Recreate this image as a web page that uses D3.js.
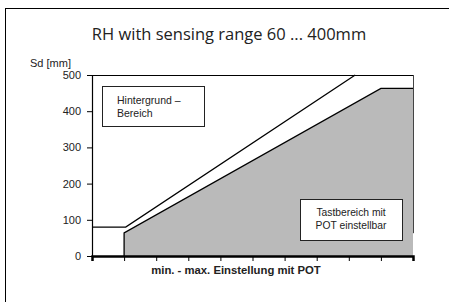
<!DOCTYPE html>
<html lang="de">
<head>
    <meta charset="UTF-8">
    <title>RH with sensing range 60 ... 400mm</title>
    <script src="https://cdnjs.cloudflare.com/ajax/libs/d3/7.8.5/d3.min.js"></script>
    <style>
        body{margin:0; background:#fff;}
        svg{display:block;}
        text{font-family:"Liberation Sans", Arial, sans-serif; fill:#222;}
    </style>
</head>
<body>
    <svg id="chart" width="449" height="302"></svg>
    <script>
        // data
        var yTicks = [0, 100, 200, 300, 400, 500];
        var xTicks = [0, 1, 2, 3, 4, 5, 6, 7, 8, 9, 10];
        // upper limit (Hintergrund)
        var upperX = [0, 1.05, 8.2];
        var upperY = [80, 80, 500];
        // sensing area (Tastbereich)
        var areaX = [1, 1, 9, 10, 10];
        var areaY = [0, 64, 463, 463, 0];

        var svg = d3.select("#chart");
        var plotLeft = 92, plotTop = 75, plotRight = 413, plotBottom = 256;

        var xScale = d3.scaleLinear().domain([0, 10]).range([plotLeft, plotRight]);
        var yScale = d3.scaleLinear().domain([0, 500]).range([plotBottom, plotTop]);

        // outer frame
        svg.append("rect")
           .attr("x", 5.5).attr("y", 8.5)
           .attr("width", 460).attr("height", 310)
           .attr("fill", "none").attr("stroke", "#000").attr("stroke-width", 1);

        // title
        svg.append("text")
           .attr("x", 229).attr("y", 40)
           .attr("text-anchor", "middle")
           .style("font-family", "'Open Sans', sans-serif")
           .style("font-size", "16.5px")
           .text("RH with sensing range 60 ... 400mm");

        svg.append("text")
           .attr("x", 30).attr("y", 67)
           .style("font-size", "11px")
           .text("Sd [mm]");

        // plot frame top
        svg.append("line")
           .attr("x1", plotLeft).attr("x2", plotRight + 0.5)
           .attr("y1", plotTop + 0.5).attr("y2", plotTop + 0.5)
           .attr("stroke", "#000");

        // gray sensing area
        var areaPts = areaX.map(function(d, i){ return [xScale(d), yScale(areaY[i])]; });
        svg.append("path")
           .attr("d", d3.line()(areaPts) + "Z")
           .attr("fill", "#bababa")
           .attr("stroke", "none");
        svg.append("path")
           .attr("d", d3.line()(areaPts.slice(0, 4)))
           .attr("fill", "none")
           .attr("stroke", "#000")
           .attr("stroke-width", 1.3);

        // plot frame right
        svg.append("line")
           .attr("x1", xScale(10) + 0.5).attr("x2", xScale(10) + 0.5)
           .attr("y1", plotTop).attr("y2", yScale(63))
           .attr("stroke", "#444").attr("stroke-width", 1);

        // upper line
        var upperPts = upperX.map(function(d, i){ return [xScale(d), yScale(upperY[i])]; });
        svg.append("path")
           .attr("d", d3.line()(upperPts))
           .attr("fill", "none")
           .attr("stroke", "#000")
           .attr("stroke-width", 1.3);

        // axes
        var yAxis = d3.axisLeft(yScale).tickValues(yTicks).tickSize(5).tickPadding(6);
        var gy = svg.append("g")
           .attr("transform", "translate(" + plotLeft + ",0)")
           .call(yAxis);
        gy.selectAll("text").style("font-size", "11px").attr("fill", "#222");
        gy.select(".domain").attr("stroke-width", 1.2);

        var xAxis = d3.axisBottom(xScale).tickValues(xTicks).tickSize(5).tickFormat("");
        var gx = svg.append("g")
           .attr("transform", "translate(0," + plotBottom + ")")
           .call(xAxis);
        gx.select(".domain").attr("stroke-width", 2.5);

        // boxes
        svg.append("rect")
           .attr("x", 102.5).attr("y", 86.5).attr("width", 102).attr("height", 40)
           .attr("fill", "#fff").attr("stroke", "#222");
        svg.append("text").attr("x", 117).attr("y", 104).style("font-size", "10.5px").text("Hintergrund –");
        svg.append("text").attr("x", 117).attr("y", 117).style("font-size", "10.5px").text("Bereich");

        svg.append("rect")
           .attr("x", 300.5).attr("y", 199.5).attr("width", 102).attr("height", 41)
           .attr("fill", "#fff").attr("stroke", "#222");
        svg.append("text").attr("x", 351).attr("y", 216).attr("text-anchor", "middle").style("font-size", "10.3px").text("Tastbereich mit");
        svg.append("text").attr("x", 351).attr("y", 229).attr("text-anchor", "middle").style("font-size", "10.3px").text("POT einstellbar");

        svg.append("text")
           .attr("x", 236).attr("y", 274)
           .attr("text-anchor", "middle")
           .style("font-size", "11.3px").style("font-weight", "bold")
           .text("min. - max. Einstellung mit POT");
    </script>
</body>
</html>
